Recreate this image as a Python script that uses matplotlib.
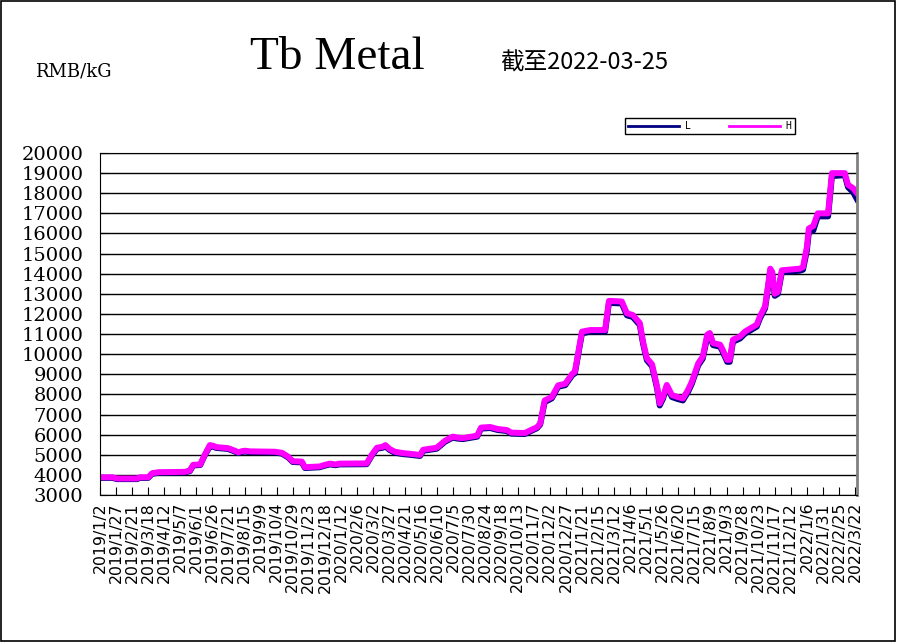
import matplotlib
matplotlib.use('Agg')
import matplotlib.pyplot as plt
import matplotlib.patches as patches
import pandas as pd

# price knots (RMB/kG)
dates = ['2019-01-02', '2019-01-22', '2019-01-28', '2019-03-01', '2019-03-05', '2019-03-18',
         '2019-03-24', '2019-04-02', '2019-05-14', '2019-05-22', '2019-05-27', '2019-06-07',
         '2019-06-14', '2019-06-22', '2019-06-27', '2019-07-02', '2019-07-20', '2019-07-31',
         '2019-08-05', '2019-08-11', '2019-08-16', '2019-08-23', '2019-10-01', '2019-10-12',
         '2019-10-22', '2019-10-29', '2019-11-12', '2019-11-17', '2019-12-10', '2019-12-18',
         '2019-12-26', '2020-01-03', '2020-01-10', '2020-02-21', '2020-02-29', '2020-03-08',
         '2020-03-17', '2020-03-21', '2020-03-28', '2020-04-05', '2020-04-18', '2020-04-28',
         '2020-05-14', '2020-05-19', '2020-06-09', '2020-06-22', '2020-07-04', '2020-07-12',
         '2020-07-20', '2020-08-11', '2020-08-17', '2020-08-31', '2020-09-12', '2020-09-26',
         '2020-10-03', '2020-10-24', '2020-11-04', '2020-11-12', '2020-11-17', '2020-11-24',
         '2020-12-05', '2020-12-15', '2020-12-26', '2021-01-06', '2021-01-10', '2021-01-21',
         '2021-02-03', '2021-02-26', '2021-03-04', '2021-03-24', '2021-04-01', '2021-04-10',
         '2021-04-21', '2021-04-26', '2021-05-02', '2021-05-10', '2021-05-18', '2021-05-22',
         '2021-05-27', '2021-06-02', '2021-06-10', '2021-06-18', '2021-06-27', '2021-07-05',
         '2021-07-11', '2021-07-21', '2021-07-28', '2021-08-04', '2021-08-08', '2021-08-13',
         '2021-08-24', '2021-08-28', '2021-09-04', '2021-09-08', '2021-09-13', '2021-09-24',
         '2021-10-02', '2021-10-20', '2021-10-25', '2021-11-02', '2021-11-07', '2021-11-10',
         '2021-11-13', '2021-11-17', '2021-11-22', '2021-11-28', '2021-12-26', '2021-12-31',
         '2022-01-06', '2022-01-09', '2022-01-16', '2022-01-23', '2022-02-08', '2022-02-14',
         '2022-03-06', '2022-03-11', '2022-03-19', '2022-03-25']

high = [3880, 3880, 3820, 3820, 3880, 3880, 4080, 4130, 4150, 4220, 4500, 4520,
        5000, 5480, 5450, 5380, 5330, 5200, 5120, 5180, 5200, 5170, 5150, 5100,
        4900, 4680, 4660, 4380, 4420, 4500, 4560, 4520, 4560, 4570, 5000, 5350,
        5400, 5480, 5280, 5150, 5080, 5050, 4990, 5250, 5350, 5700, 5900, 5850,
        5830, 5950, 6350, 6380, 6280, 6230, 6100, 6080, 6250, 6370, 6550, 7700,
        7870, 8450, 8530, 9030, 9120, 11120, 11200, 11200, 12650, 12620, 12030, 11950,
        11550, 10630, 9800, 9500, 8380, 7550, 7880, 8470, 7970, 7880, 7800, 8220,
        8630, 9550, 9880, 10970, 11050, 10550, 10470, 10220, 9720, 9720, 10720, 10880,
        11130, 11470, 11880, 12380, 13500, 14250, 14100, 13000, 13100, 14170, 14250, 14330,
        15330, 16250, 16370, 17000, 17000, 19000, 19000, 18420, 18250, 18000]

low = [3850, 3850, 3790, 3790, 3850, 3850, 4050, 4100, 4120, 4190, 4470, 4490,
       4970, 5420, 5400, 5340, 5290, 5160, 5080, 5140, 5160, 5130, 5110, 5060,
       4860, 4640, 4620, 4340, 4380, 4460, 4520, 4480, 4520, 4530, 4960, 5300,
       5350, 5420, 5230, 5100, 5030, 5000, 4940, 5200, 5300, 5650, 5850, 5800,
       5780, 5900, 6300, 6330, 6230, 6180, 6050, 6030, 6200, 6320, 6500, 7620,
       7800, 8380, 8460, 8960, 9050, 11030, 11120, 11120, 12550, 12520, 11930, 11850,
       11450, 10530, 9700, 9400, 8280, 7450, 7780, 8370, 7870, 7780, 7700, 8120,
       8530, 9450, 9780, 10870, 10950, 10450, 10370, 10120, 9620, 9620, 10620, 10780,
       11030, 11370, 11780, 12280, 13400, 14150, 14000, 12900, 13000, 14070, 14150, 14200,
       15150, 16050, 16150, 16850, 16850, 18850, 18900, 18300, 18050, 17700]

tick_labels = ['2019/1/2', '2019/1/27', '2019/2/21', '2019/3/18', '2019/4/12', '2019/5/7',
               '2019/6/1', '2019/6/26', '2019/7/21', '2019/8/15', '2019/9/9', '2019/10/4',
               '2019/10/29', '2019/11/23', '2019/12/18', '2020/1/12', '2020/2/6', '2020/3/2',
               '2020/3/27', '2020/4/21', '2020/5/16', '2020/6/10', '2020/7/5', '2020/7/30',
               '2020/8/24', '2020/9/18', '2020/10/13', '2020/11/7', '2020/12/2', '2020/12/27',
               '2021/1/21', '2021/2/15', '2021/3/12', '2021/4/6', '2021/5/1', '2021/5/26',
               '2021/6/20', '2021/7/15', '2021/8/9', '2021/9/3', '2021/9/28', '2021/10/23',
               '2021/11/17', '2021/12/12', '2022/1/6', '2022/1/31', '2022/2/25', '2022/3/22']

x = pd.to_datetime(dates)
ticks = pd.to_datetime(tick_labels, format='%Y/%m/%d')

fig = plt.figure(figsize=(8.98, 6.42), dpi=100)
ax = fig.add_axes([100/898, 1 - 495/642, 757/898, 342/642])

ax.plot(x, low, color='#000080', lw=4.3, label='L', solid_joinstyle='round')
ax.plot(x, high, color='#FF00FF', lw=4.3, label='H', solid_joinstyle='round')

ax.set_xlim(pd.Timestamp('2019-01-02'), pd.Timestamp('2022-03-25'))
ax.set_ylim(3000, 20000)
ax.set_yticks(range(3000, 20001, 1000))
ax.grid(axis='y', color='black', lw=1)
ax.set_axisbelow(True)

ax.set_xticks(ticks)
ax.set_xticklabels(tick_labels, rotation=90, fontsize=11.3, family='DejaVu Sans')
ax.tick_params(axis='x', direction='in', length=6, pad=5)
ax.tick_params(axis='y', direction='in', length=6, pad=12, labelsize=14)
for t in ax.get_yticklabels():
    t.set_family('DejaVu Serif')

for s in ['left', 'bottom', 'top']:
    ax.spines[s].set_color('black')
ax.spines['right'].set_color('#808080')
ax.spines['right'].set_linewidth(2)

leg = fig.legend(loc='center', bbox_to_anchor=(710/898, 1 - 126/642), ncol=2,
                 prop={'family': 'DejaVu Sans Mono', 'size': 7},
                 handlelength=5.2, columnspacing=4.0, fancybox=False, framealpha=1,
                 edgecolor='black', borderpad=0.35, handletextpad=0.6)
for h in leg.get_lines():
    h.set_linewidth(2)

fig.text(35/898, 1 - 72/642, 'RMB/kG', fontsize=13, family='DejaVu Serif',
         ha='left', va='center')
fig.text(250/898, 1 - 58/642, 'Tb Metal', fontsize=34, family='Liberation Serif',
         ha='left', va='center')
fig.text(500/898, 1 - 63/642, '截至2022-03-25', fontsize=17,
         family=['Noto Sans CJK SC', 'DejaVu Sans'], ha='left', va='center')

fig.patches.append(patches.Rectangle((0.001, 0.002), 0.996, 0.996, transform=fig.transFigure,
                                     fill=False, edgecolor='black', lw=1.2))

fig.savefig('out.png', dpi=100, facecolor='white')
